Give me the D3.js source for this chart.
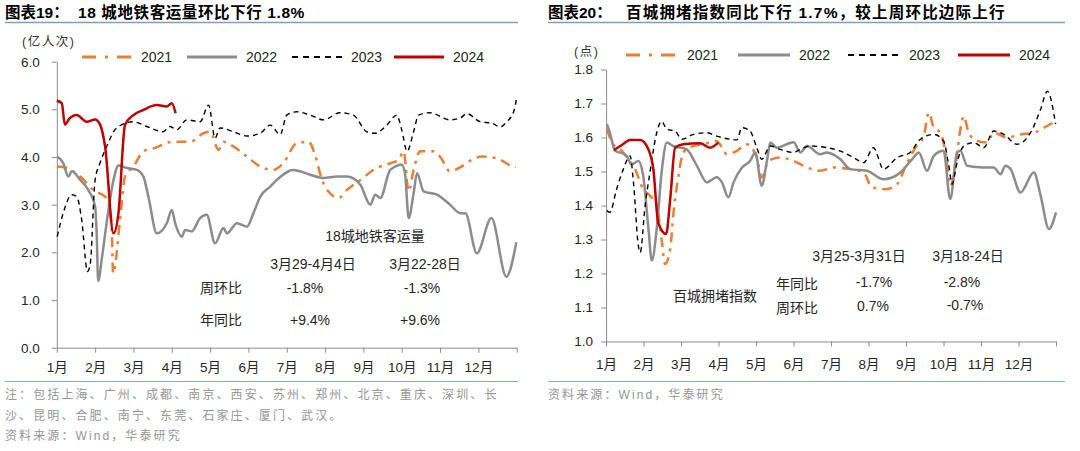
<!DOCTYPE html>
<html>
<head>
<meta charset="utf-8">
<script src="https://cdn.jsdelivr.net/npm/d3@7"></script>
<style>
body { margin: 0; background: #fff; }
text { font-family: "Liberation Sans", "Noto Sans CJK SC", sans-serif; }
</style>
</head>
<body>
<script>
// ---- data: [month position (0 = 1月1日), value] ----
// 18城地铁客运量 (亿人次)
var metro2021 = [[0.01,3.80],[0.26,3.77],[0.61,3.59],[0.95,3.31],[1.30,3.14],[1.43,2.54],[1.47,1.56],[1.65,2.68],
	[1.78,3.59],[2.00,3.80],[2.26,4.12],[2.52,4.18],[3.04,4.32],[3.48,4.32],[3.83,4.50],[4.00,4.53],[4.22,4.15],
	[4.35,4.32],[4.61,4.22],[4.96,4.01],[5.31,3.80],[5.65,3.73],[5.91,3.87],[6.26,4.29],[6.57,4.32],[6.74,4.04],
	[6.92,3.52],[7.13,3.24],[7.35,3.14],[7.57,3.31],[7.92,3.52],[8.35,3.77],[8.70,3.87],[8.92,3.94],[9.05,4.12],
	[9.18,3.28],[9.31,3.73],[9.48,4.12],[9.83,4.12],[10.00,4.01],[10.26,3.70],[10.53,3.79],[10.83,3.94],
	[11.09,4.01],[11.50,3.97],[11.79,3.84],[11.98,3.79]];
var metro2022 = [[0.01,4.01],[0.17,3.87],[0.30,3.59],[0.39,3.70],[0.61,3.52],[0.82,3.31],[1.00,2.96],[1.04,2.40],
	[1.08,1.40],[1.18,1.90],[1.30,2.62],[1.48,3.52],[1.61,3.82],[1.83,3.77],[2.09,3.73],[2.26,3.59],[2.39,3.17],
	[2.61,2.40],[2.87,2.61],[3.00,2.89],[3.09,2.61],[3.26,2.33],[3.35,2.47],[3.52,2.44],[3.74,2.72],[3.91,2.79],
	[4.13,2.19],[4.35,2.51],[4.44,2.40],[4.70,2.61],[4.96,2.54],[5.13,2.82],[5.31,3.17],[5.57,3.38],[5.74,3.52],
	[6.17,3.73],[6.61,3.63],[6.96,3.56],[7.31,3.59],[7.57,3.59],[7.92,3.42],[8.18,3.00],[8.31,3.21],[8.44,3.14],
	[8.70,3.73],[9.00,3.84],[9.09,3.63],[9.18,2.72],[9.31,3.24],[9.40,3.66],[9.57,3.28],[9.92,3.21],[10.26,3.00],
	[10.53,2.82],[10.66,2.82],[10.96,1.98],[11.34,2.72],[11.73,1.49],[11.99,2.21]];
var metro2023 = [[0.01,2.33],[0.17,2.83],[0.39,3.21],[0.52,3.17],[0.65,2.68],[0.80,1.60],[0.87,1.74],[1.00,3.52],
	[1.13,3.88],[1.30,4.22],[1.56,4.61],[1.99,4.74],[2.35,4.64],[2.77,4.53],[2.96,4.64],[3.13,4.57],[3.39,4.78],
	[3.74,4.74],[3.96,5.09],[4.13,4.40],[4.26,4.61],[4.61,4.53],[4.96,4.44],[5.31,4.50],[5.57,4.67],[5.83,4.47],
	[6.00,4.88],[6.26,4.95],[6.61,4.88],[6.96,4.78],[7.39,4.93],[7.74,4.88],[8.09,4.53],[8.31,4.50],[8.61,4.67],
	[8.87,4.88],[9.00,4.57],[9.14,4.12],[9.31,4.53],[9.44,4.88],[9.74,4.93],[10.26,4.78],[10.53,4.82],[10.70,4.91],
	[11.05,4.74],[11.35,4.71],[11.57,4.63],[11.74,4.74],[11.92,4.95],[11.99,5.20]];
var metro2024 = [[0.00,5.18],[0.13,5.13],[0.21,4.68],[0.34,4.82],[0.52,4.88],[0.78,4.74],[1.00,4.79],[1.13,4.68],
	[1.26,4.22],[1.48,2.40],[1.61,2.83],[1.78,4.68],[2.00,4.88],[2.26,4.99],[2.61,5.09],[2.87,5.06],[3.00,5.13],[3.10,4.92]];

// 百城拥堵指数 (点)
var jam2021 = [[0.02,1.624],[0.19,1.580],[0.42,1.561],[0.59,1.536],[0.77,1.507],[0.99,1.448],[1.17,1.429],[1.35,1.399],
	[1.48,1.301],[1.57,1.228],[1.71,1.272],[1.79,1.370],[1.93,1.487],[2.06,1.556],[2.33,1.575],[2.60,1.580],[2.95,1.590],
	[3.22,1.551],[3.49,1.561],[3.75,1.580],[4.02,1.541],[4.15,1.482],[4.33,1.531],[4.64,1.541],[5.00,1.531],[5.36,1.512],
	[5.71,1.502],[6.07,1.512],[6.51,1.507],[6.87,1.497],[7.09,1.453],[7.45,1.448],[7.76,1.463],[8.03,1.526],[8.25,1.570],
	[8.47,1.604],[8.61,1.673],[8.74,1.629],[8.92,1.614],[9.05,1.556],[9.18,1.458],[9.32,1.517],[9.45,1.624],[9.54,1.663],
	[9.67,1.614],[9.90,1.590],[10.16,1.585],[10.34,1.614],[10.70,1.600],[11.05,1.609],[11.41,1.614],[11.68,1.629],[11.99,1.648]];
var jam2022 = [[0.02,1.639],[0.10,1.614],[0.24,1.561],[0.37,1.556],[0.55,1.546],[0.68,1.521],[0.86,1.531],[0.99,1.487],
	[1.13,1.331],[1.22,1.238],[1.35,1.331],[1.48,1.497],[1.62,1.585],[1.79,1.575],[2.15,1.565],[2.42,1.517],[2.69,1.468],
	[2.95,1.483],[3.09,1.468],[3.26,1.424],[3.40,1.468],[3.62,1.511],[3.84,1.531],[3.98,1.556],[4.15,1.458],[4.29,1.531],
	[4.38,1.585],[4.55,1.570],[5.00,1.586],[5.18,1.556],[5.36,1.575],[5.71,1.551],[5.89,1.556],[6.25,1.536],[6.51,1.507],
	[6.96,1.502],[7.40,1.477],[7.85,1.497],[8.20,1.541],[8.34,1.556],[8.56,1.502],[8.74,1.546],[9.00,1.561],[9.18,1.419],
	[9.36,1.556],[9.45,1.561],[9.63,1.517],[10.07,1.512],[10.34,1.512],[10.52,1.492],[10.65,1.517],[10.79,1.507],
	[11.05,1.438],[11.41,1.497],[11.59,1.429],[11.81,1.331],[12.00,1.380]];
var jam2023 = [[0.02,1.385],[0.10,1.380],[0.28,1.448],[0.46,1.507],[0.64,1.546],[0.73,1.468],[0.86,1.282],[0.91,1.262],
	[1.04,1.399],[1.17,1.497],[1.35,1.614],[1.48,1.648],[1.62,1.624],[1.84,1.619],[2.02,1.595],[2.33,1.609],[2.69,1.614],
	[2.95,1.604],[3.31,1.595],[3.49,1.593],[3.62,1.629],[3.84,1.619],[4.02,1.570],[4.15,1.536],[4.38,1.575],[4.64,1.565],
	[5.00,1.556],[5.18,1.565],[5.44,1.575],[5.89,1.570],[6.25,1.560],[6.60,1.541],[6.87,1.526],[7.13,1.570],[7.40,1.507],
	[7.76,1.541],[8.11,1.556],[8.38,1.595],[8.74,1.609],[9.00,1.590],[9.14,1.517],[9.23,1.463],[9.36,1.526],[9.54,1.575],
	[9.81,1.585],[10.07,1.570],[10.34,1.619],[10.61,1.609],[10.96,1.580],[11.32,1.614],[11.59,1.683],[11.77,1.736],[11.99,1.639]];
var jam2024 = [[0.21,1.563],[0.42,1.578],[0.64,1.593],[0.91,1.593],[1.13,1.565],[1.26,1.507],[1.39,1.350],[1.60,1.316],
	[1.71,1.419],[1.84,1.570],[2.06,1.580],[2.51,1.583],[2.77,1.570],[2.99,1.585]];

var monthLabels = ["1月","2月","3月","4月","5月","6月","7月","8月","9月","10月","11月","12月"];
var years = ["2021","2022","2023","2024"];
var metroTicks = [0, 1, 2, 3, 4, 5, 6];
var jamTicks = [1.0, 1.1, 1.2, 1.3, 1.4, 1.5, 1.6, 1.7, 1.8];

// line style per year
var lineStyle = {
	"2021": {color: "#ED7D31", width: 2.5, dash: "10,6,3,6"},
	"2022": {color: "#8C8C8C", width: 2.5, dash: null},
	"2023": {color: "#000000", width: 1.4, dash: "5,4"},
	"2024": {color: "#C00000", width: 2.5, dash: null}
};

var svg = d3.select("body")
	.append("svg")
	.attr("width", 1080)
	.attr("height", 451);

function drawChart(o)
{// one panel: title, axes, lines, legend, notes
	var g = svg.append("g");

	// title + rule
	g.append("text").attr("x", o.left).attr("y", 18)
		.style("font-size", "15.5px").style("font-weight", "bold").text(o.titleNo);
	g.append("text").attr("x", o.titleX).attr("y", 18)
		.style("font-size", "15.5px").style("font-weight", "bold").style("letter-spacing", o.titleSp).text(o.title);
	g.append("line").attr("x1", o.left).attr("x2", o.right).attr("y1", 22.5).attr("y2", 22.5)
		.attr("stroke", "#7F9DBF").attr("stroke-width", 1.6);

	// footer rule + notes
	g.append("line").attr("x1", o.left).attr("x2", o.right).attr("y1", 381.5).attr("y2", 381.5)
		.attr("stroke", "#8EAACB").attr("stroke-width", 1.2);
	o.notes.forEach((t, i) => {
		g.append("text").attr("x", o.left).attr("y", 399 + i * 20.5)
			.style("font-size", "12px").style("letter-spacing", "2.1px")
			.attr("fill", "#959595").text(t);
	});

	var x = d3.scaleLinear().domain([0, 12]).range(o.xr);
	var y = d3.scaleLinear().domain(o.yd).range(o.yr);

	// y axis
	var ya = g.append("g").attr("transform", "translate(" + o.xr[0] + ",0)")
		.call(d3.axisLeft(y).tickValues(o.yTicks).tickFormat(d3.format(".1f"))
			.tickSize(5).tickSizeOuter(0).tickPadding(o.yPad));
	// x axis
	var xa = g.append("g").attr("transform", "translate(0," + o.yr[0] + ")")
		.call(d3.axisBottom(x).tickValues(d3.range(0, 13))
			.tickFormat((d) => d < 12 ? monthLabels[d] : "")
			.tickSize(5).tickSizeOuter(0).tickPadding(o.xPad));
	[ya, xa].forEach((a) => {
		a.selectAll("path, line").attr("stroke", "#8C8C8C");
		a.selectAll("text").attr("fill", "#262626").style("font-size", "13.5px");
	});

	// unit
	g.append("text").attr("x", o.unitX).attr("y", o.unitY)
		.style("font-size", "12.5px").style("letter-spacing", "1.5px").attr("fill", "#333").text(o.unit);

	// lines
	var line = d3.line()
		.x((d) => x(d[0]))
		.y((d) => y(d[1]))
		.curve(d3.curveMonotoneX);

	years.forEach((yr, i) => {
		var s = lineStyle[yr];
		g.append("path")
			.datum(o.series[i])
			.attr("d", line)
			.attr("fill", "none")
			.attr("stroke", s.color)
			.attr("stroke-width", s.width)
			.attr("stroke-dasharray", s.dash)
			.attr("stroke-linejoin", "round");
	});

	// legend
	years.forEach((yr, i) => {
		var s = lineStyle[yr];
		var lx = o.legX[i];
		g.append("line").attr("x1", lx).attr("x2", lx + o.legLen).attr("y1", o.legY).attr("y2", o.legY)
			.attr("stroke", s.color).attr("stroke-width", s.width + 0.5)
			.attr("stroke-dasharray", yr == "2021" ? "14,9,3,9" : (yr == "2023" ? "6,5" : null));
		g.append("text").attr("x", lx + o.legLen + 9).attr("y", o.legY + 5)
			.style("font-size", "14px").attr("fill", "#262626").text(yr);
	});

	// annotation table
	o.labels.forEach((l) => {
		g.append("text").attr("x", l[0]).attr("y", l[1])
			.attr("text-anchor", "middle")
			.style("font-size", "14px").attr("fill", "#262626").text(l[2]);
	});
}

drawChart({
	left: 5, right: 518, titleX: 78, titleSp: "0.6px",
	titleNo: "图表19：", title: "18 城地铁客运量环比下行 1.8%",
	notes: ["注：包括上海、广州、成都、南京、西安、苏州、郑州、北京、重庆、深圳、长",
		"沙、昆明、合肥、南宁、东莞、石家庄、厦门、武汉。",
		"资料来源：Wind，华泰研究"],
	xr: [56.8, 516.7], yd: [0, 6], yr: [347.7, 61.7], yTicks: metroTicks, yPad: 12, xPad: 10,
	unit: "(亿人次)", unitX: 22, unitY: 46,
	series: [metro2021, metro2022, metro2023, metro2024],
	legX: [82, 187, 292, 394], legLen: 50, legY: 57,
	labels: [[375, 241, "18城地铁客运量"], [313, 269, "3月29-4月4日"], [425, 269, "3月22-28日"],
		[221, 293, "周环比"], [305, 293, "-1.8%"], [422, 293, "-1.3%"],
		[221, 325, "年同比"], [310, 325, "+9.4%"], [420, 325, "+9.6%"]]
});

drawChart({
	left: 548, right: 1065, titleX: 626, titleSp: "1.2px",
	titleNo: "图表20：", title: "百城拥堵指数同比下行 1.7%，较上周环比边际上行",
	notes: ["资料来源：Wind，华泰研究"],
	xr: [606.1, 1056], yd: [1.0, 1.8], yr: [341.5, 69.5], yTicks: jamTicks, yPad: 8, xPad: 13,
	unit: "(点)", unitX: 574, unitY: 56,
	series: [jam2021, jam2022, jam2023, jam2024],
	legX: [626, 738, 848, 958], legLen: 52, legY: 55,
	labels: [[859, 261, "3月25-3月31日"], [968, 261, "3月18-24日"],
		[797, 289, "年同比"], [874, 287, "-1.7%"], [962, 287, "-2.8%"],
		[715, 301, "百城拥堵指数"],
		[797, 313, "周环比"], [873, 311, "0.7%"], [965, 310, "-0.7%"]]
});
</script>
</body>
</html>
